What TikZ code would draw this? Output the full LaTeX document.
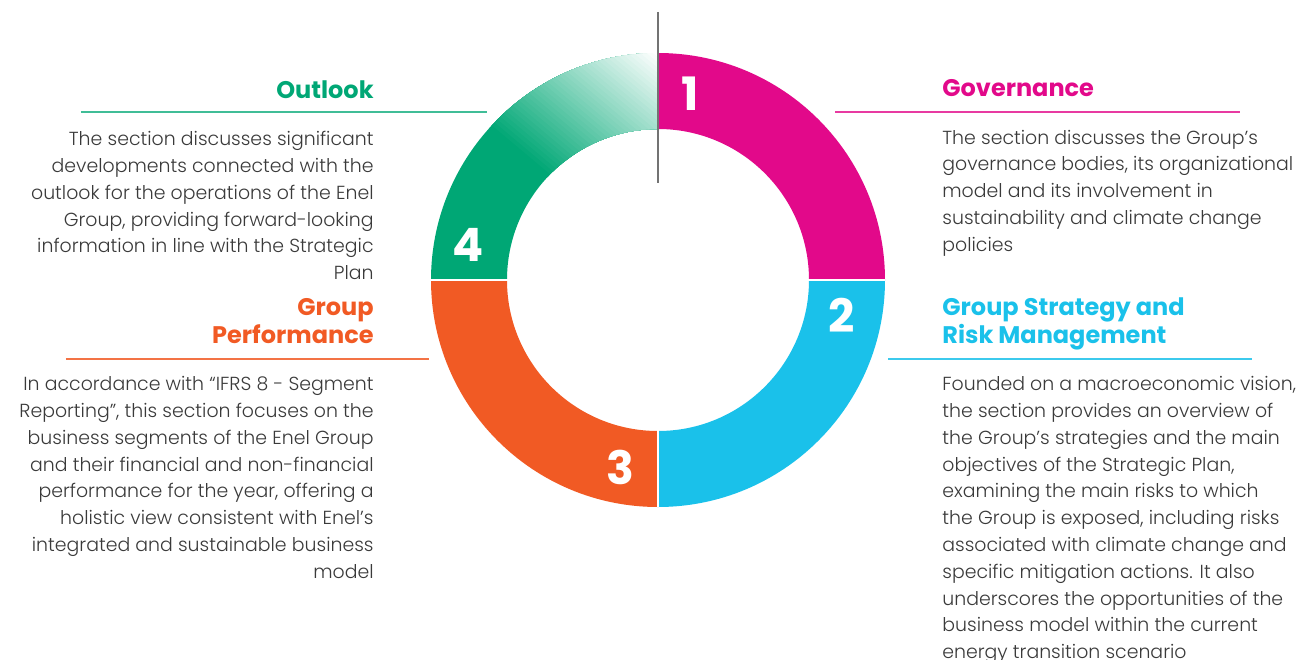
\documentclass[tikz,border=0pt]{standalone}
\usepackage{fontspec}
\setmainfont{Poppins}[UprightFont=* Light, BoldFont=* Bold]
\usepackage{xcolor}
\usepackage{tikz}

\definecolor{segmagenta}{HTML}{E2098A}
\definecolor{segcyan}{HTML}{1AC1EA}
\definecolor{segorange}{HTML}{F15A24}
\definecolor{seggreen}{HTML}{00A775}
\definecolor{txtgray}{HTML}{3A3A3A}

\begin{document}
\begin{tikzpicture}[x=0.5pt, y=0.5pt,
  num/.style={font=\fontsize{23}{23}\selectfont\bfseries, text=white, inner sep=0},
  head/.style={font=\fontsize{12}{14}\selectfont\bfseries, inner sep=0},
  blurb/.style={font=\fontsize{9.45}{13.4}\selectfont, text=txtgray, inner sep=0},
  rule/.style={line width=0.75pt}]
\useasboundingbox (-658,-379) rectangle (641,280);
\def\ro{227}
\def\ri{151}
% ring segments
\fill[segmagenta] (0:\ro) arc[start angle=0, end angle=90, radius=\ro] -- (90:\ri) arc[start angle=90, end angle=0, radius=\ri] -- cycle;
\fill[segcyan] (-90:\ro) arc[start angle=-90, end angle=0, radius=\ro] -- (0:\ri) arc[start angle=0, end angle=-90, radius=\ri] -- cycle;
\fill[segorange] (180:\ro) arc[start angle=180, end angle=270, radius=\ro] -- (270:\ri) arc[start angle=270, end angle=180, radius=\ri] -- cycle;
\begin{scope}
  \clip (90:\ro) arc[start angle=90, end angle=180, radius=\ro] -- (180:\ri) arc[start angle=180, end angle=90, radius=\ri] -- cycle;
  \fill[seggreen] (-\ro,-10) rectangle (10,\ro);
  % fade to white towards the top
  \foreach \i in {0,...,40} {
    \pgfmathsetmacro\u{7.6+\i*163/40}
    \pgfmathsetmacro\p{100-\i*100/40}
    \fill[rotate=50, seggreen!\p!white] (\u,-300) rectangle (400,300);
  }
\end{scope}
\draw[white, line width=0.7pt] (180:\ro) -- (0:\ro);
\draw[white, line width=0.7pt] (-90:\ro) -- (0,0);
\draw[black!55, line width=0.75pt] (0,268) -- (0,97);
% numbers
\node[num] (n1) at (32,186) {1};
\node[num] (n2) at (184,-35) {2};
\node[num] (n3) at (-38,-187) {3};
\node[num] (n4) at (-190,35) {4};
% Outlook
\node[head, text=seggreen, anchor=base east] (outlook) at (-284,182) {Outlook};
\draw[rule, seggreen!75!white] (-577,168) -- (-171,168);
\node[blurb, align=right, anchor=north east] (outlookText) at (-284,149) {The section discusses significant\\developments connected with the\\outlook for the operations of the Enel\\Group, providing forward-looking\\information in line with the Strategic\\Plan};
% Governance
\node[head, text=segmagenta, anchor=base west] (gov) at (284,184) {Governance};
\draw[rule, segmagenta!80!white] (177,168) -- (582,168);
\node[blurb, align=left, anchor=north west] (govText) at (284,150.5) {The section discusses the Group’s\\governance bodies, its organizational\\model and its involvement in\\sustainability and climate change\\policies};
% Group Performance
\node[head, text=segorange, align=right, anchor=north east] (perf) at (-284,-18) {Group\\Performance};
\draw[rule, segorange!85!white] (-592,-79) -- (-229,-79);
\node[blurb, align=right, anchor=north east] (perfText) at (-284,-96) {In accordance with “IFRS 8 - Segment\\Reporting”, this section focuses on the\\business segments of the Enel Group\\and their financial and non-financial\\performance for the year, offering a\\holistic view consistent with Enel’s\\integrated and sustainable business\\model};
% Group Strategy and Risk Management
\node[head, text=segcyan, align=left, anchor=north west] (strat) at (284,-17) {Group Strategy and\\Risk Management};
\draw[rule, segcyan!85!white] (230,-79) -- (594,-79);
\node[blurb, align=left, anchor=north west] (stratText) at (284,-96) {Founded on a macroeconomic vision,\\the section provides an overview of\\the Group’s strategies and the main\\objectives of the Strategic Plan,\\examining the main risks to which\\the Group is exposed, including risks\\associated with climate change and\\specific mitigation actions. It also\\underscores the opportunities of the\\business model within the current\\energy transition scenario};
\end{tikzpicture}
\end{document}
